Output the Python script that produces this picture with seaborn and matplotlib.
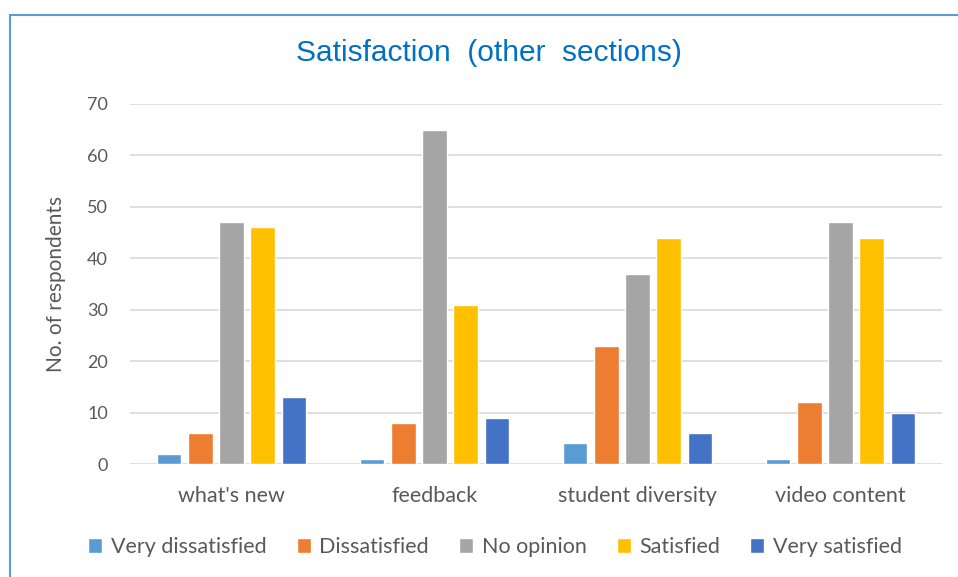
import matplotlib
matplotlib.use("Agg")
import matplotlib.pyplot as plt
from matplotlib.patches import Rectangle
import seaborn as sns
import pandas as pd

# data
sections = ["what's new", "feedback", "student diversity", "video content"]
levels = ["Very dissatisfied", "Dissatisfied", "No opinion", "Satisfied", "Very satisfied"]
very_dissatisfied = [2, 1, 4, 1]
dissatisfied = [6, 8, 23, 12]
no_opinion = [47, 65, 37, 47]
satisfied = [46, 31, 44, 44]
very_satisfied = [13, 9, 6, 10]
colors = ["#5B9BD5", "#ED7D31", "#A5A5A5", "#FFC000", "#4472C4"]

rows = []
for lvl, vals in zip(levels, [very_dissatisfied, dissatisfied, no_opinion, satisfied, very_satisfied]):
    for sec, v in zip(sections, vals):
        rows.append({"section": sec, "level": lvl, "count": v})
df = pd.DataFrame(rows)

sns.set_theme(style="white")
plt.rcParams["font.family"] = ["Lato", "DejaVu Sans"]

fig = plt.figure(figsize=(9.58, 5.77), dpi=100)
ax = fig.add_axes([0.1357, 0.1958, 0.8476, 0.624])

sns.barplot(data=df, x="section", y="count", hue="level", order=sections,
            hue_order=levels, palette=colors, width=0.765, gap=0.22,
            saturation=1, ax=ax, legend=True)

ax.set_ylim(0, 70)
ax.set_yticks(range(0, 71, 10))
ax.set_xlim(-0.5, 3.5)
ax.yaxis.grid(True, color="#D9D9D9", linewidth=1.2)
ax.set_axisbelow(True)
for s in ax.spines.values():
    s.set_visible(False)
ax.tick_params(axis="both", colors="#595959", length=0)
ax.tick_params(axis="y", pad=16, labelsize=13)
ax.tick_params(axis="x", pad=16, labelsize=15.5)
ax.set_xlabel("")
ax.set_ylabel("No. of respondents", color="#595959", fontsize=15, labelpad=15)

fig.text(0.51, 0.909, "Satisfaction  (other  sections)", ha="center", va="center",
         color="#0070C0", fontsize=21.5, family=["Liberation Sans", "DejaVu Sans"])

handles, labels = ax.get_legend_handles_labels()
ax.legend_.remove()
fig.legend(handles, labels, loc="center", bbox_to_anchor=(0.517, 0.052), ncol=5,
           frameon=False, fontsize=15.5, labelcolor="#595959", handlelength=0.65,
           handleheight=0.65, handletextpad=0.4, columnspacing=1.4)

# outer chart border
fig.patches.append(Rectangle((10 / 958, -0.1), 1.2, 1 - 15 / 577 + 0.1,
                             transform=fig.transFigure, fill=False,
                             edgecolor="#5B9BD5", linewidth=1.5))

fig.savefig("out.png", dpi=100)
